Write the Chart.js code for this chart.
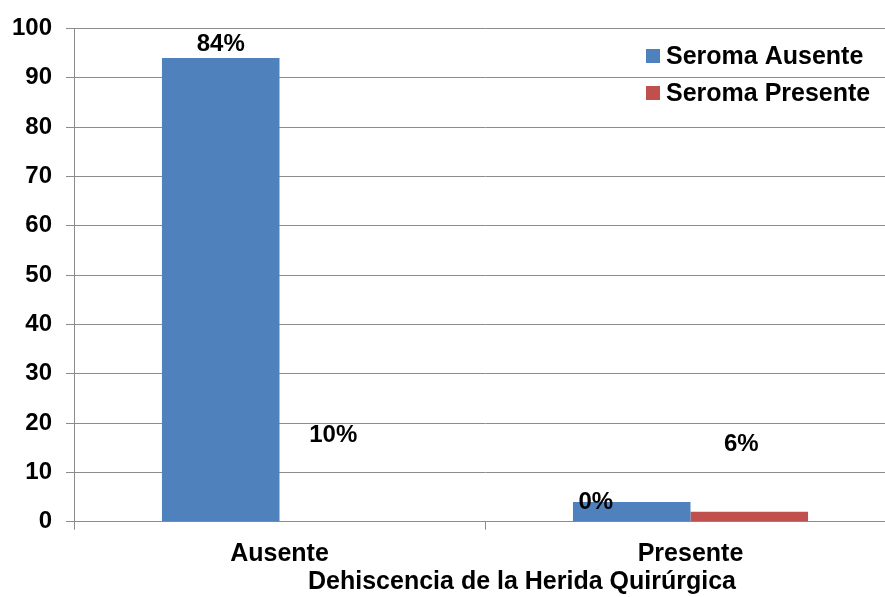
<!DOCTYPE html>
<html>
<head>
<meta charset="utf-8">
<script src="https://cdn.jsdelivr.net/npm/chart.js@4"></script>
<style>
  html, body { margin: 0; padding: 0; background: #fff; overflow: hidden; }
  #wrap { width: 885px; height: 597px; overflow: hidden; }
</style>
</head>
<body>
<div id="wrap"><canvas id="myChart" width="900" height="597"></canvas></div>
<script>
const categories = ['Ausente', 'Presente'];
const seromaAusente = [94, 4];
const seromaPresente = [0, 2];
const labelsAusente = ['84%', '0%'];
const labelsPresente = ['10%', '6%'];
const yTicks = { min: 0, max: 100, step: 10 };
const axisTitle = 'Dehiscencia de la Herida Quirúrgica';

const FONT = '"Liberation Sans", Arial, sans-serif';
const GRID = '#8c8c8c';

// where each percentage label sits: x shift from bar centre, y as a value on the axis
const labelPlacement = [
    [{ dx: 0, at: 96.7 }, { dx: -36, at: 3.9 }],
    [{ dx: -5, at: 17.4 }, { dx: -8, at: 15.7 }],
];

const extras = {
    id: 'extras',
    afterDatasetsDraw(chart) {
        const ctx = chart.ctx;
        const y = chart.scales.y;
        ctx.save();
        ctx.font = 'bold 24px ' + FONT;
        ctx.fillStyle = '#000';
        ctx.textAlign = 'center';
        ctx.textBaseline = 'middle';
        chart.data.datasets.forEach((ds, i) => {
            chart.getDatasetMeta(i).data.forEach((bar, j) => {
                const p = labelPlacement[i][j];
                ctx.fillText(ds.valueLabels[j], bar.x + p.dx, y.getPixelForValue(p.at));
            });
        });

        // legend inside the plot, top right
        ctx.font = 'bold 25px ' + FONT;
        ctx.textAlign = 'left';
        chart.data.datasets.forEach((ds, i) => {
            const top = 49 + i * 37;
            ctx.fillStyle = ds.backgroundColor;
            ctx.fillRect(646, top, 14, 14);
            ctx.fillStyle = '#000';
            ctx.fillText(ds.label, 666, top + 8);
        });

        // axis title
        const area = chart.chartArea;
        ctx.textAlign = 'center';
        ctx.fillText(axisTitle, (area.left + area.right) / 2 + 37, 582);
        ctx.restore();
    }
};

new Chart(document.getElementById('myChart'), {
    type: 'bar',
    data: {
        labels: categories,
        datasets: [
            { label: 'Seroma Ausente', data: seromaAusente, valueLabels: labelsAusente, backgroundColor: '#4F81BD' },
            { label: 'Seroma Presente', data: seromaPresente, valueLabels: labelsPresente, backgroundColor: '#C0504D' },
        ],
    },
    options: {
        responsive: false,
        animation: false,
        layout: { padding: { top: 23, right: 4, bottom: 0, left: 0 } },
        datasets: { bar: { categoryPercentage: 0.572, barPercentage: 1 } },
        plugins: { legend: { display: false }, tooltip: { enabled: false } },
        scales: {
            x: {
                afterFit(scale) { scale.height = 75.3; },
                grid: { drawOnChartArea: false, color: GRID, tickLength: 8 },
                border: { color: GRID },
                ticks: { color: '#000', font: { family: FONT, size: 25, weight: 'bold' }, padding: 9 },
            },
            y: {
                min: yTicks.min,
                max: yTicks.max,
                afterFit(scale) { scale.width = 74; },
                grid: { color: GRID, tickLength: 8 },
                border: { color: GRID },
                ticks: { stepSize: yTicks.step, color: '#000', font: { family: FONT, size: 24, weight: 'bold' }, padding: 14 },
            },
        },
    },
    plugins: [extras],
});
</script>
</body>
</html>
